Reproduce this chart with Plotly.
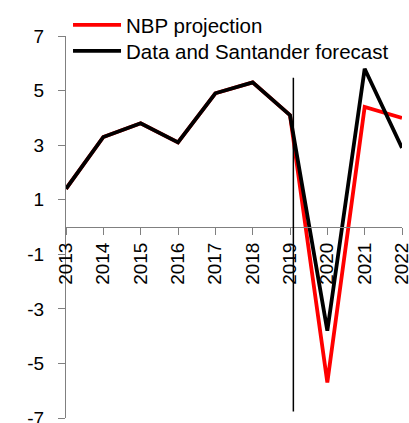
import plotly.graph_objects as go

years = [2013, 2014, 2015, 2016, 2017, 2018, 2019, 2020, 2021, 2022]
nbp_projection = [1.4, 3.3, 3.8, 3.1, 4.9, 5.3, 4.1, -5.7, 4.4, 4.0]
santander = [1.4, 3.3, 3.8, 3.1, 4.9, 5.3, 4.1, -3.8, 5.8, 2.9]
y_ticks = [-7, -5, -3, -1, 1, 3, 5, 7]
y_tick_labels = ["-7", "-5", "-3", "-1", "1", "3", "5", "7"]
x_ticks = years
x_tick_labels = [str(v) for v in years]

divider_x = 2019.09
divider_top = 5.47
divider_bottom = -6.76

FONT = "Liberation Sans, Arial, sans-serif"

fig = go.Figure()
fig.add_trace(go.Scatter(x=years, y=nbp_projection, mode="lines", name="NBP projection",
                         line=dict(color="#FF0000", width=3.8), legend="legend"))
fig.add_trace(go.Scatter(x=years, y=santander, mode="lines", name="Data and Santander forecast",
                         line=dict(color="#000000", width=3.8), legend="legend2"))

fig.add_shape(type="line", xref="x", yref="y", x0=divider_x, x1=divider_x,
              y0=divider_top, y1=divider_bottom, line=dict(color="black", width=1.5))

legend_common = dict(x=0.006, xanchor="left", yanchor="middle",
                     bgcolor="rgba(0,0,0,0)", font=dict(size=20.5),
                     itemwidth=48, tracegroupgap=0)

fig.update_layout(
    width=409, height=423,
    margin=dict(l=66, r=7, t=36, b=5, autoexpand=False),
    paper_bgcolor="white", plot_bgcolor="white",
    font=dict(family=FONT, size=19, color="black"),
    showlegend=True,
    legend=dict(y=1.0288, **legend_common),
    legend2=dict(y=0.9607, **legend_common),
    xaxis=dict(range=[2013, 2022], tickvals=x_ticks, ticktext=x_tick_labels,
               tickangle=-90, ticks="outside", ticklen=7, tickcolor="#808080",
               showline=True, linecolor="#808080", linewidth=1,
               showgrid=False, zeroline=False, anchor="free", position=0.5,
               automargin=False, ticklabeloverflow="allow", tickfont=dict(size=19)),
    yaxis=dict(range=[-7, 7], tickvals=y_ticks, ticktext=y_tick_labels,
               ticks="outside", ticklen=7,
               tickcolor="#808080", showline=True, linecolor="#808080", linewidth=1,
               showgrid=False, zeroline=False, ticklabelstandoff=10,
               automargin=False, ticklabeloverflow="allow", tickfont=dict(size=19)),
)

fig.write_html("out.html")
